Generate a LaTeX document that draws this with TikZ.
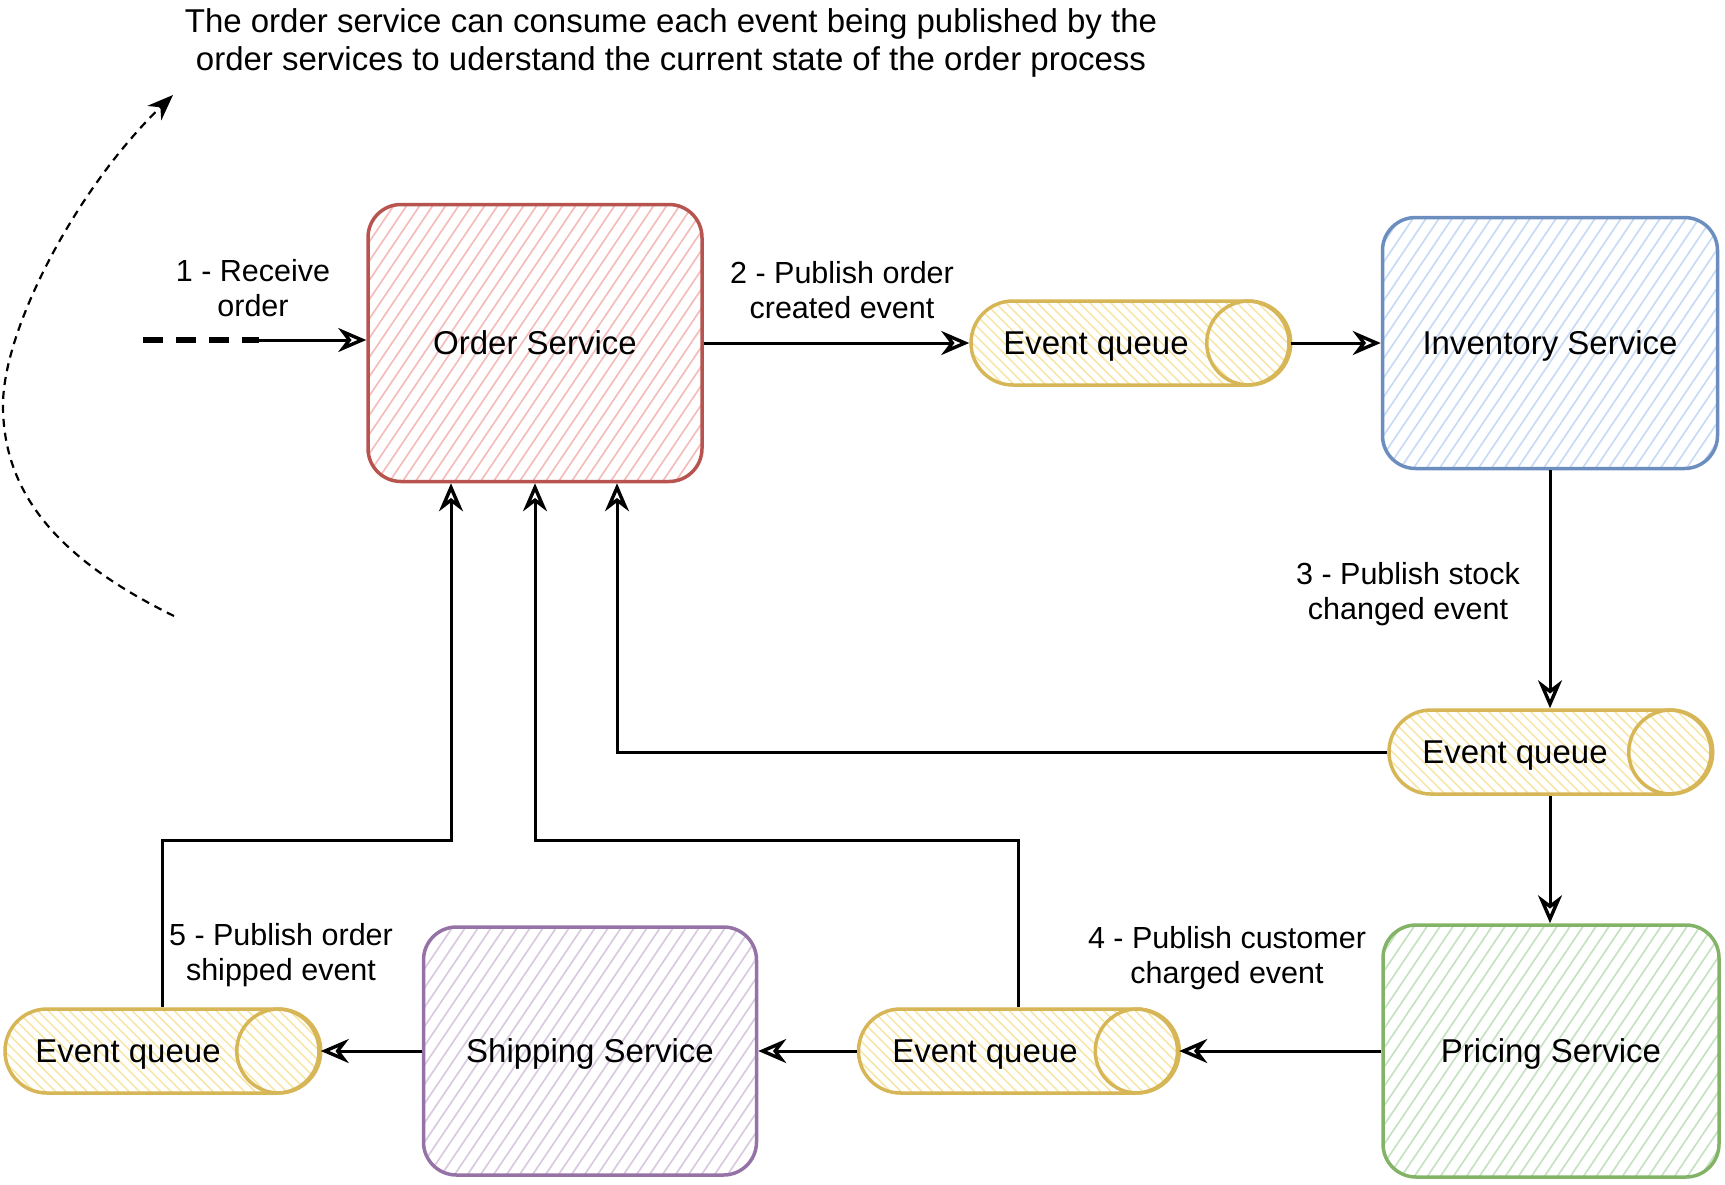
\documentclass[tikz,border=0pt]{standalone}
\usepackage{fontspec}
\setmainfont{Liberation Sans}
\usetikzlibrary{arrows.meta}
\definecolor{redS}{HTML}{B85450}\definecolor{redH}{HTML}{F4BDBB}
\definecolor{bluS}{HTML}{6C8EBF}\definecolor{bluH}{HTML}{C9DBF4}
\definecolor{grnS}{HTML}{82B366}\definecolor{grnH}{HTML}{C6E2C2}
\definecolor{purS}{HTML}{9673A6}\definecolor{purH}{HTML}{D9CAE0}
\definecolor{yelS}{HTML}{D6B656}\definecolor{yelH}{HTML}{F8E6A8}
\tikzset{
  hatchsvc/.style={path picture={
    \foreach \k in {-40,...,40}{
      \draw[#1,line width=1.7pt] ([shift={(\k*13-112,166)}]path picture bounding box.center) -- ++(224,-332);
    }}},
  hatchq/.style={path picture={
    \foreach \k in {-26,...,26}{
      \draw[#1,line width=1.6pt] ([shift={(\k*10.5-60,-60)}]path picture bounding box.center) -- ++(120,120);
    }}},
  svc/.style 2 args={draw=#1, line width=3.5pt, rounded corners=33pt, hatchsvc=#2,
    text depth=0pt, font=\fontsize{33}{38.5}\selectfont},
  queue/.style={draw=yelS, line width=3.5pt, rounded corners=41.9pt, hatchq=yelH,
    minimum height=84pt, text depth=0pt, font=\fontsize{33}{38.5}\selectfont},
  qend/.style={draw=yelS, line width=3.5pt},
  lbl/.style={align=center, font=\fontsize{30.5}{35}\selectfont},
  conn/.style={line width=3pt, -{Stealth[open,length=28pt,width=24pt,inset=9pt,line width=3.4pt]}},
}
\begin{document}
\begin{tikzpicture}[x=1pt,y=-1pt]
\useasboundingbox (0,0) rectangle (1725,1184);

% top note
\node[align=center, font=\fontsize{33}{38.5}\selectfont] (note) at (671,43)
  {The order service can consume each event being published by the\\order services to uderstand the current state of the order process};

% services
\node[svc={redS}{redH}, minimum width=334pt, minimum height=277pt] (os) at (535,343) {Order Service};
\node[svc={bluS}{bluH}, minimum width=335pt, minimum height=251pt] (inv) at (1550,343) {Inventory Service};
\node[svc={grnS}{grnH}, minimum width=336pt, minimum height=252pt] (pri) at (1551,1051) {Pricing Service};
\node[svc={purS}{purH}, minimum width=333pt, minimum height=248pt] (ship) at (590,1051) {Shipping Service};

% queues
\node[queue, minimum width=318pt] (q1) at (1130,343) {Event queue\hspace*{68pt}};
\node[queue, minimum width=322pt] (q2) at (1550,752) {Event queue\hspace*{70pt}};
\node[queue, minimum width=319pt] (q3) at (1018,1051) {Event queue\hspace*{66pt}};
\node[queue, minimum width=314pt] (q4) at (162,1051) {Event queue\hspace*{68pt}};
\foreach \q in {q1,q2,q3,q4}{
  \draw[qend] ([xshift=-42pt]\q.east) circle (42pt);
}

% 1 - receive order
\coordinate (in) at (143,340);
\coordinate (inmid) at (259,340);
\draw[line width=6pt, dash pattern=on 20pt off 13pt] (in) -- (inmid);
\draw[conn] (inmid) -- (inmid -| os.west);
\node[lbl] (l1) at (253,288) {1 - Receive\\order};

% 2
\draw[conn] (os.east) -- (q1.west);
\node[lbl] (l2) at (842,290) {2 - Publish order\\created event};
\draw[conn] (q1.east) -- (inv.west);

% 3
\draw[conn] (inv.south) -- (q2.north);
\node[lbl] (l3) at (1408,594) {3 - Publish stock\\changed event};
\draw[conn] (q2.west) -| ([xshift=82pt]os.south);
\draw[conn] (q2.south) -- (q2.south |- pri.north);

% 4
\draw[conn] (pri.west) -- (q3.east);
\node[lbl] (l4) at (1227,958) {4 - Publish customer\\charged event};
\draw[conn] (q3.west) -- (ship.east);
\draw[conn] (q3.north) -- ++(0,-166.5) -| (os.south);

% 5
\draw[conn] (ship.west) -- (q4.east);
\node[lbl] (l5) at (281,955) {5 - Publish order\\shipped event};
\draw[conn] (q4.north) -- ++(0,-166.5) -| ([xshift=-84pt]os.south);

% curved dashed arrow
\coordinate (cs) at (174,616);
\coordinate (cl) at (3,405);
\coordinate (ce) at (173,95);
\draw[line width=2.2pt, dash pattern=on 8pt off 6pt, -{Stealth[length=26pt,width=20pt]}]
  (cs) .. controls (60,560) and (3,495) .. (cl) .. controls (3,330) and (75,190) .. (ce);
\end{tikzpicture}
\end{document}
